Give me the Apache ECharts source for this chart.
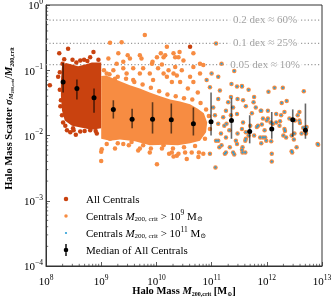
<!DOCTYPE html>
<html><head><meta charset="utf-8">
<script src="https://cdn.jsdelivr.net/npm/echarts@6/dist/echarts.min.js"></script>
<style>html,body{margin:0;padding:0;background:#fff}#c{width:332px;height:300px}</style>
</head><body><div id="c"></div>
<script>
const SERIF = '"Liberation Serif", "DejaVu Serif", serif';

// ---- data (log10 units: [log10 M200crit, log10 scatter]) ----
const allCentralsCoreLog = [[8.29,-0.94],[8.36,-0.89],[8.47,-0.91],[8.58,-0.94],[8.71,-0.91],[8.83,-0.88],[9.0,-0.88],[9.0,-1.89],[8.83,-1.91],[8.65,-1.88],[8.47,-1.85],[8.34,-1.77],[8.29,-1.62],[8.27,-1.39],[8.27,-1.15]];
const allCentralsLog = [[8.24,-0.74],[8.40,-0.67],[8.33,-0.83],[8.48,-0.84],[8.62,-0.85],[8.69,-0.84],[8.86,-0.72],[8.80,-0.80],[8.07,-1.23],[8.25,-1.03],[8.27,-1.46],[8.29,-1.69],[8.31,-1.80],[8.38,-1.92],[8.44,-1.95],[8.49,-1.89],[8.62,-1.94],[8.80,-1.92],[8.92,-1.97],[8.54,-1.99],[10.61,-0.64],[8.30,-0.90],[8.55,-0.88],[8.75,-0.86],[8.95,-0.84],[8.25,-1.30],[8.26,-1.55],[8.22,-1.10],[8.35,-1.85],[8.50,-1.92],[8.70,-1.93],[8.90,-1.93]];
const centrals9CoreLog = [[9.0,-1.09],[9.09,-1.08],[9.2,-1.12],[9.34,-1.17],[9.52,-1.23],[9.7,-1.28],[9.88,-1.34],[10.07,-1.4],[10.25,-1.45],[10.43,-1.48],[10.61,-1.52],[10.75,-1.59],[10.86,-1.66],[10.92,-1.8],[10.9,-1.95],[10.79,-2.08],[10.61,-2.12],[10.39,-2.15],[10.16,-2.14],[9.88,-2.15],[9.61,-2.09],[9.34,-2.06],[9.16,-2.08],[9.0,-2.05]];
const centrals9Log = [[9.79,-0.46],[9.16,-0.58],[9.37,-0.57],[9.48,-0.77],[9.13,-0.82],[9.28,-0.90],[9.70,-0.77],[9.92,-0.90],[10.01,-0.80],[10.13,-0.80],[10.19,-0.64],[9.31,-0.74],[9.40,-0.87],[9.52,-0.82],[9.73,-0.82],[10.08,-0.74],[10.31,-0.74],[10.40,-0.80],[9.93,-0.87],[10.10,-0.91],[9.40,-0.97],[9.58,-0.97],[9.76,-0.97],[9.88,-1.05],[10.03,-0.97],[10.22,-1.00],[10.34,-0.95],[9.46,-1.05],[9.70,-1.05],[10.19,-1.10],[10.37,-1.08],[9.25,-1.13],[9.58,-1.15],[9.94,-1.15],[10.28,-1.18],[9.10,-1.05],[9.22,-1.00],[10.16,-0.77],[10.34,-0.80],[10.67,-0.74],[10.49,-0.85],[10.79,-0.90],[10.13,-1.05],[10.31,-1.05],[10.46,-1.00],[10.67,-0.95],[10.85,-0.92],[10.61,-1.10],[10.79,-1.05],[10.43,-1.18],[10.67,-1.18],[10.42,-0.72],[10.57,-1.28],[10.75,-1.34],[9.00,-2.25],[9.00,-2.39],[9.01,-2.21],[9.16,-2.05],[9.40,-2.13],[9.55,-2.10],[9.76,-2.15],[9.88,-2.26],[10.01,-2.44],[10.28,-2.26],[10.37,-2.31],[10.13,-2.15],[10.31,-2.32],[10.40,-2.28],[10.55,-2.36],[10.52,-2.26],[10.64,-2.26],[10.76,-2.33],[10.85,-2.28],[10.23,-2.28],[10.77,-2.26],[9.25,-2.20],[9.67,-2.23],[9.05,-1.00],[9.15,-1.06],[9.30,-1.10],[9.45,-1.13],[9.60,-1.18],[9.75,-1.22],[9.90,-1.27],[10.05,-1.32],[10.20,-1.37],[10.35,-1.40],[10.50,-1.43],[10.65,-1.45],[10.80,-1.50],[10.90,-1.60],[9.10,-2.13],[9.30,-2.12],[9.50,-2.15],[9.70,-2.20],[9.90,-2.20],[10.10,-2.20],[10.30,-2.20],[10.50,-2.18],[10.70,-2.16],[10.88,-2.05],[10.95,-1.70],[10.97,-1.90]];
const centrals11Log = [[10.91,-1.15],[10.97,-1.26],[11.00,-1.05],[11.08,-0.59],[11.18,-0.90],[11.12,-1.10],[11.15,-1.31],[11.36,-1.21],[11.30,-1.49],[11.39,-1.57],[11.12,-1.44],[11.03,-1.57],[11.21,-1.72],[11.12,-1.82],[11.27,-1.82],[11.46,-1.67],[11.06,-1.69],[11.41,-1.01],[11.46,-1.25],[11.55,-1.25],[11.67,-1.30],[11.77,-1.41],[11.76,-1.49],[12.14,-1.27],[12.29,-1.27],[12.03,-1.33],[12.67,-1.32],[11.35,-1.41],[11.47,-1.44],[11.57,-1.46],[11.62,-1.55],[11.80,-1.57],[11.90,-1.62],[12.02,-1.62],[12.17,-1.67],[12.26,-1.69],[12.32,-1.64],[12.56,-1.69],[12.59,-1.64],[12.59,-1.77],[11.93,-1.74],[12.02,-1.74],[11.84,-1.85],[11.96,-1.92],[12.11,-1.82],[12.23,-1.85],[12.32,-1.90],[12.71,-1.97],[12.50,-1.97],[12.35,-2.03],[12.92,-2.13],[11.62,-1.95],[11.62,-2.05],[11.47,-1.97],[11.44,-2.08],[11.56,-2.18],[11.77,-2.00],[11.93,-2.03],[11.99,-2.08],[11.26,-1.62],[11.35,-1.69],[11.23,-1.85],[11.32,-1.92],[11.17,-1.97],[11.26,-2.03],[11.08,-2.08],[11.14,-2.18],[11.55,-1.24],[11.89,-1.62],[11.73,-1.66],[12.41,-1.74],[12.51,-1.77],[12.60,-1.81],[12.66,-1.88],[12.24,-1.78],[12.07,-1.80],[12.00,-1.77],[12.27,-1.50],[12.36,-1.47],[11.57,-1.80],[11.70,-1.85],[11.55,-1.90],[11.67,-2.00],[11.61,-2.08],[11.55,-2.22],[11.61,-2.26],[11.82,-1.87],[11.91,-1.83],[11.88,-2.03],[11.97,-2.03],[11.90,-2.12],[12.08,-2.09],[12.17,-1.80],[12.30,-2.00],[12.33,-1.93],[12.45,-2.00],[12.49,-2.06],[12.63,-1.97],[12.72,-1.87],[12.54,-2.18],[12.45,-2.24],[12.93,-2.14],[12.09,-2.28],[12.09,-2.40],[11.07,-2.49],[11.26,-2.26],[11.41,-2.29],[11.56,-2.26],[12.46,-2.26],[10.97,-2.28],[11.24,-2.28],[11.39,-2.26],[11.18,-2.15],[11.33,-2.18],[11.46,-2.13],[11.12,-2.08]];
const medianLogM  = [8.31, 8.56, 8.87, 9.22, 9.56, 9.93, 10.27, 10.67, 10.99, 11.36, 11.69, 12.09, 12.47, 12.70];
const medianLogS  = [-1.18,-1.28,-1.42,-1.60,-1.75,-1.75,-1.76,-1.82,-1.79,-1.77,-1.94,-1.90,-1.76,-1.92];
const medianLoLogS = [-1.34,-1.45,-1.65,-1.74,-1.89,-1.97,-1.97,-2.00,-2.00,-2.05,-2.12,-2.05,-2.02,-2.05];
const medianHiLogS = [-0.89,-1.14,-1.28,-1.46,-1.59,-1.49,-1.51,-1.57,-1.34,-1.43,-1.69,-1.64,-1.60,-1.51];
const dexLineValues = [0.585, 0.259, 0.122];
const dexLabels = ['0.2 dex ≈ 60%', '0.1 dex ≈ 25%', '0.05 dex ≈ 10%'];
const dexLabelMass = 9.3e11;
const xTickExps = [8, 9, 10, 11, 12, 13];
const yTickExps = [-4, -3, -2, -1, 0];

const NAME_ALL = 'All Centrals';
const NAME_9 = 'Centrals M200crit > 1e9';
const NAME_11 = 'Centrals M200crit > 1e11';
const NAME_MED = 'Median of All Centrals';

const C_DARK = '#c9420f', C_OR = '#f78c42', C_BLUE = '#2b9fd8';

const P = a => a.map(([m, s]) => [Math.pow(10, m), Math.pow(10, s)]);
const X0 = Math.pow(10, xTickExps[0]), X1 = Math.pow(10, xTickExps[xTickExps.length - 1]);
const Y0 = Math.pow(10, yTickExps[0]), Y1 = Math.pow(10, yTickExps[yTickExps.length - 1]);

const xMinor = [], yMinor = [];
for (let i = 0; i < xTickExps.length - 1; i++) for (let m = 2; m <= 9; m++) xMinor.push([m * Math.pow(10, xTickExps[i]), Y0]);
for (let i = 0; i < yTickExps.length - 1; i++) for (let m = 2; m <= 9; m++) yMinor.push([X0, m * Math.pow(10, yTickExps[i])]);

const fmtExp = v => { const e = Math.round(Math.log10(v)); return e < 0 ? '\u2212' + (-e) : String(e); };

function polySeries(name, coreLog, color) {
  const pts = P(coreLog);
  return { type: 'custom', name, data: pts, silent: true, z: 2,
    renderItem(params, api) {
      if (params.dataIndex !== 0) return null;
      return { type: 'polygon', shape: { points: pts.map(p => api.coord(p)) }, style: { fill: color } };
    } };
}

const richBase = {
  n: { fontFamily: SERIF, fontSize: 11, lineHeight: 14, color: '#000', verticalAlign: 'bottom' },
  i: { fontFamily: SERIF, fontSize: 11, lineHeight: 14, color: '#000', fontStyle: 'italic', verticalAlign: 'bottom' },
  sub: { fontFamily: SERIF, fontSize: 7, lineHeight: 8, color: '#000', verticalAlign: 'bottom' },
  sup: { fontFamily: SERIF, fontSize: 7.5, lineHeight: 7, color: '#000', verticalAlign: 'top' }
};
const legendText = {
  [NAME_ALL]: '{n|All Centrals}',
  [NAME_9]: '{n|Centrals }{i|M}{sub|200, crit}{n| > 10}{sup|9}{n| M}{sub|\u2299}',
  [NAME_11]: '{n|Centrals }{i|M}{sub|200, crit}{n| > 10}{sup|11}{n| M}{sub|\u2299}',
  [NAME_MED]: '{n|Median of All Centrals}'
};
// legend marker centre x = 66, text start x = 86
function mkLegend(name, icon, w, h, top) {
  const rich = Object.assign({}, richBase, { sp: { width: 15 - w / 2, height: 14, lineHeight: 14 } });
  return { data: [{ name, icon }], left: 66 - w / 2, top, itemWidth: w, itemHeight: h, itemGap: 0, padding: 0,
    selectedMode: false, formatter: n => '{sp|}' + legendText[n],
    textStyle: { fontFamily: SERIF, fontSize: 11, lineHeight: 14, color: '#000', rich } };
}

const boldRich = {
  b: { fontFamily: SERIF, fontSize: 10.5, fontWeight: 'bold', lineHeight: 14, color: '#000', verticalAlign: 'bottom' },
  bi: { fontFamily: SERIF, fontSize: 10.5, fontWeight: 'bold', fontStyle: 'italic', lineHeight: 14, color: '#000', verticalAlign: 'bottom' },
  bs: { fontFamily: SERIF, fontSize: 6, fontWeight: 'bold', lineHeight: 8, color: '#000', verticalAlign: 'bottom' },
  bsi: { fontFamily: SERIF, fontSize: 6.5, fontWeight: 'bold', fontStyle: 'italic', lineHeight: 8, color: '#000', verticalAlign: 'bottom' },
  bss: { fontFamily: SERIF, fontSize: 4.5, fontWeight: 'bold', lineHeight: 4, color: '#000', verticalAlign: 'bottom' },
  gap: { width: 34, height: 14, lineHeight: 14 }
};

const tickLabel = (margin) => ({ margin, formatter: v => '{n|10}{sup|' + fmtExp(v) + '}', rich: richBase });

const chart = echarts.init(document.getElementById('c'), null, { renderer: 'canvas' });
chart.setOption({
  animation: false,
  grid: { left: 46, right: 10, top: 5, bottom: 34, show: true, borderColor: '#333', borderWidth: 1,
    backgroundColor: 'transparent', containLabel: false, outerBoundsMode: 'none' },
  xAxis: { type: 'log', logBase: 10, min: X0, max: X1, splitNumber: 5,
    axisLine: { show: true, lineStyle: { color: '#333', width: 1 } },
    axisTick: { show: true, inside: true, length: 4, lineStyle: { color: '#333', width: 0.8 } },
    splitLine: { show: false }, minorTick: { show: false },
    axisLabel: tickLabel(8),
    name: '{b|Halo Mass }{bi|M}{bs|200,crit}{b| [M}{bs|\u2299}{b|]}', nameLocation: 'middle', nameGap: 17,
    nameMoveOverlap: false,
    nameTextStyle: { rich: boldRich } },
  yAxis: { type: 'log', logBase: 10, min: Y0, max: Y1, splitNumber: 4,
    axisLine: { show: true, lineStyle: { color: '#333', width: 1 } },
    axisTick: { show: true, inside: true, length: 4, lineStyle: { color: '#333', width: 0.8 } },
    splitLine: { show: false }, minorTick: { show: false },
    axisLabel: tickLabel(3),
    name: '{gap|}{b|Halo Mass Scatter }{bi|\u03c3}{bsi|M}{bss|200,crit}{b|/}{bi|M}{bs|200,crit}', nameLocation: 'middle', nameGap: 31, nameRotate: 90,
    nameMoveOverlap: false,
    nameTextStyle: { rich: boldRich } },
  legend: [
    mkLegend(NAME_ALL, 'circle', 4.5, 4.5, 192),
    mkLegend(NAME_9, 'circle', 3.5, 3.5, 209),
    mkLegend(NAME_11, 'circle', 2.2, 2.2, 226),
    mkLegend(NAME_MED, 'path://M2.7,6A2.3,2.3,0,1,1,7.3,6A2.3,2.3,0,1,1,2.7,6ZM4.3,0H5.7V12H4.3Z', 4.6, 12, 243)
  ],
  series: [
    ...dexLineValues.map(v => ({ type: 'line', name: 'dex', data: [[X0, v], [X1, v]], symbol: 'none', silent: true, z: 1,
      lineStyle: { color: '#9a9a9a', width: 1.2, type: [1.2, 2.2] } })),
    { type: 'scatter', name: 'dexLabels', symbolSize: 0, silent: true, z: 1,
      data: dexLineValues.map((v, i) => ({ value: [dexLabelMass, v], name: dexLabels[i] })),
      label: { show: true, position: 'inside', formatter: '{b}', color: '#8a8a8a', fontFamily: SERIF, fontSize: 11,
        backgroundColor: '#fff', padding: [1, 4] } },
    polySeries('allCore', allCentralsCoreLog, C_DARK),
    { type: 'scatter', name: NAME_ALL, data: P(allCentralsLog), symbolSize: 4.5, z: 2,
      itemStyle: { color: C_DARK, opacity: 1 } },
    polySeries('c9Core', centrals9CoreLog, C_OR),
    { type: 'scatter', name: NAME_9, data: P(centrals9Log.concat(centrals11Log)), symbolSize: 4.5, z: 2,
      itemStyle: { color: C_OR, opacity: 1 } },
    { type: 'scatter', name: NAME_11, data: P(centrals11Log), symbolSize: 2.2, z: 2,
      itemStyle: { color: C_BLUE, opacity: 1 } },
    { type: 'custom', name: 'errbars', silent: true, z: 3,
      data: medianLogM.map((m, i) => [Math.pow(10, m), Math.pow(10, medianLoLogS[i]), Math.pow(10, medianHiLogS[i])]),
      encode: { x: 0, y: [1, 2] },
      renderItem(params, api) {
        const a = api.coord([api.value(0), api.value(1)]);
        const b = api.coord([api.value(0), api.value(2)]);
        return { type: 'line', shape: { x1: a[0], y1: a[1], x2: b[0], y2: b[1] }, style: { stroke: 'rgba(0,0,0,0.6)', lineWidth: 1.6 } };
      } },
    { type: 'scatter', name: NAME_MED, data: P(medianLogM.map((m, i) => [m, medianLogS[i]])), symbolSize: 5, z: 4,
      itemStyle: { color: '#000', opacity: 1 } },
    { type: 'custom', name: 'xMinor', silent: true, z: 5, data: xMinor, clip: false,
      renderItem(params, api) {
        const p = api.coord([api.value(0), api.value(1)]);
        return { type: 'line', shape: { x1: p[0], y1: p[1], x2: p[0], y2: p[1] - 2.2 }, style: { stroke: '#333', lineWidth: 0.7 } };
      } },
    { type: 'custom', name: 'yMinor', silent: true, z: 5, data: yMinor, clip: false,
      renderItem(params, api) {
        const p = api.coord([api.value(0), api.value(1)]);
        return { type: 'line', shape: { x1: p[0], y1: p[1], x2: p[0] + 2.2, y2: p[1] }, style: { stroke: '#333', lineWidth: 0.7 } };
      } }
  ]
});
</script></body></html>
